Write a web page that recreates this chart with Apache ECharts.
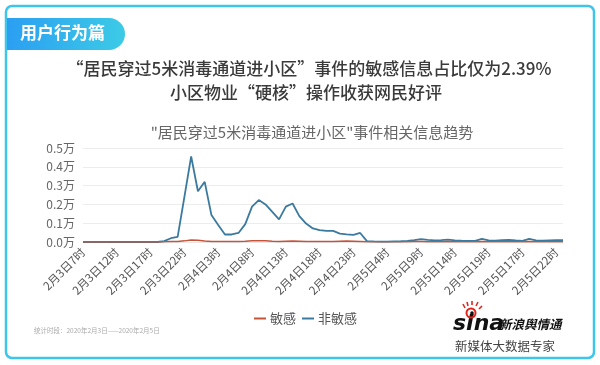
<!DOCTYPE html>
<html>
<head>
<meta charset="utf-8">
<script src="https://cdn.jsdelivr.net/npm/echarts@6/dist/echarts.min.js"></script>
<style>
html,body{margin:0;padding:0;background:#fff;}
#chart{width:600px;height:365px;}
</style>
</head>
<body>
<div id="chart"></div>
<script>
var categories = [
'2月3日7时','2月3日8时','2月3日9时','2月3日10时','2月3日11时','2月3日12时','2月3日13时','2月3日14时','2月3日15时','2月3日16时',
'2月3日17时','2月3日18时','2月3日19时','2月3日20时','2月3日21时','2月3日22时','2月3日23时',
'2月4日0时','2月4日1时','2月4日2时','2月4日3时','2月4日4时','2月4日5时','2月4日6时','2月4日7时','2月4日8时','2月4日9时',
'2月4日10时','2月4日11时','2月4日12时','2月4日13时','2月4日14时','2月4日15时','2月4日16时','2月4日17时','2月4日18时',
'2月4日19时','2月4日20时','2月4日21时','2月4日22时','2月4日23时',
'2月5日0时','2月5日1时','2月5日2时','2月5日3时','2月5日4时','2月5日5时','2月5日6时','2月5日7时','2月5日8时','2月5日9时',
'2月5日10时','2月5日11时','2月5日12时','2月5日13时','2月5日14时','2月5日15时','2月5日16时','2月5日17时','2月5日18时',
'2月5日19时','2月5日20时','2月5日21时','2月5日22时','2月5日23时',
'2月5日17时','2月5日18时','2月5日19时','2月5日20时','2月5日21时','2月5日22时','2月5日23时'
];
// 非敏感 (counts)
var nonSensitive = [
0,0,0,0,0,0,0,0,0,0,
0,0,50,200,270,2400,4550,2700,3200,1430,
900,400,400,480,950,1880,2230,2000,1600,1200,
1880,2050,1380,980,720,630,590,590,450,410,
380,480,50,30,20,20,30,40,60,100,
150,110,90,100,130,90,70,60,60,170,
80,70,100,110,80,60,170,80,70,90,
100,100
];
// 敏感 (counts)
var sensitive = [
0,0,0,0,0,0,0,0,0,0,
0,0,10,20,30,60,100,90,50,30,
20,20,25,30,40,60,70,60,40,30,
40,50,40,30,25,20,20,30,40,50,
40,30,10,10,10,10,10,10,15,20,
20,15,15,15,20,15,10,10,10,20,
15,10,15,15,10,10,20,15,10,15,
15,15
];
var yTicks = ['0.0万','0.1万','0.2万','0.3万','0.4万','0.5万'];
var seriesNames = ['敏感','非敏感'];

var FONT = '"Noto Sans CJK SC","Noto Sans",sans-serif';
var chart = echarts.init(document.getElementById('chart'), null, {renderer:'canvas'});
var option = {
  backgroundColor:'#fff',
  animation:false,
  textStyle:{fontFamily:FONT},
  title:[
    {text:'“居民穿过5米消毒通道进小区”事件的敏感信息占比仅为2.39%', left:304, top:55, textAlign:'center',
     textStyle:{fontSize:17, fontWeight:500, color:'#3a3a3a', fontFamily:FONT}},
    {text:'小区物业“硬核”操作收获网民好评', left:301, top:79, textAlign:'center',
     textStyle:{fontSize:17, fontWeight:500, color:'#3a3a3a', fontFamily:FONT}},
    {text:'"居民穿过5米消毒通道进小区"事件相关信息趋势', left:307, top:120, textAlign:'center',
     textStyle:{fontSize:15, fontWeight:'normal', color:'#666', fontFamily:FONT}}
  ],
  legend:{
    data:seriesNames, left:249, top:307,
    icon:'rect', itemWidth:12, itemHeight:2, itemGap:6,
    textStyle:{fontSize:13, color:'#555', fontFamily:FONT, padding:[0,0,0,-1]}
  },
  grid:{left:83, right:37, top:148, bottom:123, containLabel:false},
  xAxis:{
    type:'category', data:categories, boundaryGap:false,
    axisLine:{show:true, lineStyle:{color:'#e6e6e6'}},
    axisTick:{show:false},
    axisLabel:{interval:4, rotate:45, fontSize:11.5, color:'#555', margin:8, fontFamily:FONT}
  },
  yAxis:{
    type:'value', min:0, max:5000, interval:1000,
    axisLine:{show:false}, axisTick:{show:false},
    splitLine:{lineStyle:{color:'#ececec'}},
    axisLabel:{fontSize:12, color:'#666', margin:8, fontFamily:FONT,
      formatter:function(v){return yTicks[Math.round(v/1000)];}}
  },
  series:[
    {name:seriesNames[0], type:'line', data:sensitive, symbol:'none', z:3,
     lineStyle:{color:'#c5553a', width:1.5}, itemStyle:{color:'#c5553a'}},
    {name:seriesNames[1], type:'line', data:nonSensitive, symbol:'none', z:2,
     lineStyle:{color:'#3a7aa0', width:1.8}, itemStyle:{color:'#3a7aa0'}}
  ],
  graphic:[
    {type:'rect', shape:{x:6, y:6, width:588, height:352, r:6}, style:{fill:'none', stroke:'#3ec5ea', lineWidth:2.5}, z:10},
    {type:'rect', shape:{x:7, y:18, width:118, height:32, r:[0,16,16,0]},
     style:{fill:new echarts.graphic.LinearGradient(0,0,1,0,[{offset:0,color:'#2b9ff2'},{offset:1,color:'#3ccbe6'}])}, z:10},
    {type:'text', left:20, top:24, style:{text:'用户行为篇', fill:'#fff', font:'bold 17px '+FONT}, z:11},
    {type:'text', left:34, top:327, style:{text:'统计时段：2020年2月3日——2020年2月5日', fill:'#aaa', font:'6.5px '+FONT}, z:11},
    {type:'text', left:453, top:313, style:{text:'sina', fill:'#111', font:'italic bold 22px "DejaVu Sans",sans-serif'}, z:11},
    {type:'text', left:499, top:318, style:{text:'新浪舆情通', fill:'#111', font:'italic bold 12.5px '+FONT}, z:11},
    {type:'circle', shape:{cx:471, cy:313, r:4.5}, style:{fill:'none', stroke:'#e2231a', lineWidth:2}, z:12},
    {type:'circle', shape:{cx:472, cy:313, r:1.8}, style:{fill:'#111'}, z:12},
    {type:'polyline', shape:{points:[[465,308],[463,304]]}, style:{stroke:'#e2231a', lineWidth:1.6}, z:12},
    {type:'polyline', shape:{points:[[468,306],[467,302]]}, style:{stroke:'#e2231a', lineWidth:1.6}, z:12},
    {type:'polyline', shape:{points:[[472,305],[472,301]]}, style:{stroke:'#e2231a', lineWidth:1.6}, z:12},
    {type:'polyline', shape:{points:[[476,306],[478,302]]}, style:{stroke:'#e2231a', lineWidth:1.6}, z:12},
    {type:'polyline', shape:{points:[[479,309],[482,306]]}, style:{stroke:'#e2231a', lineWidth:1.6}, z:12},
    {type:'text', left:455, top:340, style:{text:'新媒体大数据专家', fill:'#444', font:'12.5px '+FONT}, z:11}
  ]
};
chart.setOption(option);
</script>
</body>
</html>
